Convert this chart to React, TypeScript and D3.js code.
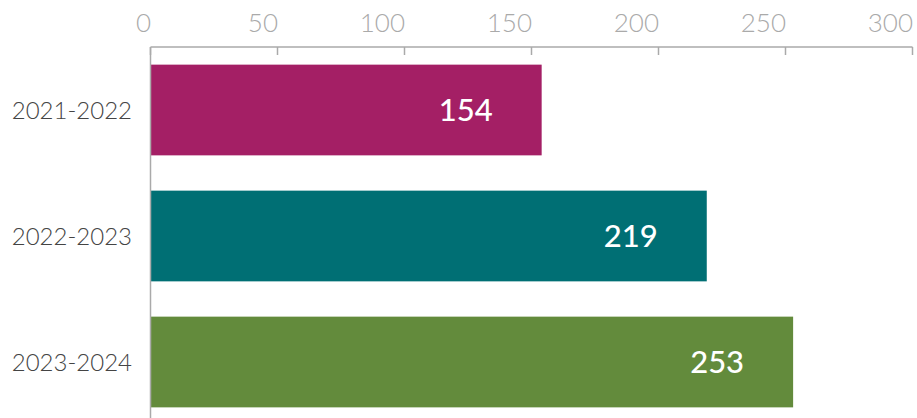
import React from "react";
import * as d3 from "d3";

const categories = ["2021-2022", "2022-2023", "2023-2024"];
const values = [154, 219, 253];
const barColors = ["#A41F65", "#006F74", "#638B3C"];
const xTicks = [0, 50, 100, 150, 200, 250, 300];

const W = 917;
const H = 418;

export default function App() {
  const x = d3.scaleLinear().domain([0, 300]).range([150.5, 912.5]);
  const y = d3
    .scaleBand<string>()
    .domain(categories)
    .range([47, 425])
    .paddingInner(0.28)
    .paddingOuter(0.14);
  const font = "Lato, 'Open Sans', sans-serif";
  return (
    <svg
      width={W}
      height={H}
      style={{ position: "absolute", left: 0, top: 0, background: "#fff" }}
    >
      {categories.map((c, i) => (
        <g key={c}>
          <rect
            x={x(0)}
            y={y(c)!}
            width={x(values[i]) - x(0)}
            height={y.bandwidth()}
            fill={barColors[i]}
          />
          <text
            x={x(values[i]) - 49}
            y={y(c)! + y.bandwidth() / 2 + 10.5}
            textAnchor="end"
            fill="#fff"
            fontFamily={font}
            fontSize={31}
            fontWeight={500}
          >
            {values[i]}
          </text>
          <text
            x={132}
            y={y(c)! + y.bandwidth() / 2 + 8.5}
            textAnchor="end"
            fill="#444"
            fontFamily={font}
            fontSize={24}
            fontWeight={300}
          >
            {c}
          </text>
        </g>
      ))}
      <line x1={x(0)} x2={x(300)} y1={47} y2={47} stroke="#aaa" strokeWidth={1.5} />
      <line x1={x(0)} x2={x(0)} y1={47} y2={H} stroke="#aaa" strokeWidth={1.5} />
      {xTicks.map((t) => (
        <g key={t}>
          <line x1={x(t)} x2={x(t)} y1={47} y2={55} stroke="#aaa" strokeWidth={1.5} />
          <text
            x={x(t) + 0.5}
            y={32}
            textAnchor="end"
            fill="#aaa"
            fontFamily={font}
            fontSize={26}
            fontWeight={300}
          >
            {t}
          </text>
        </g>
      ))}
    </svg>
  );
}
